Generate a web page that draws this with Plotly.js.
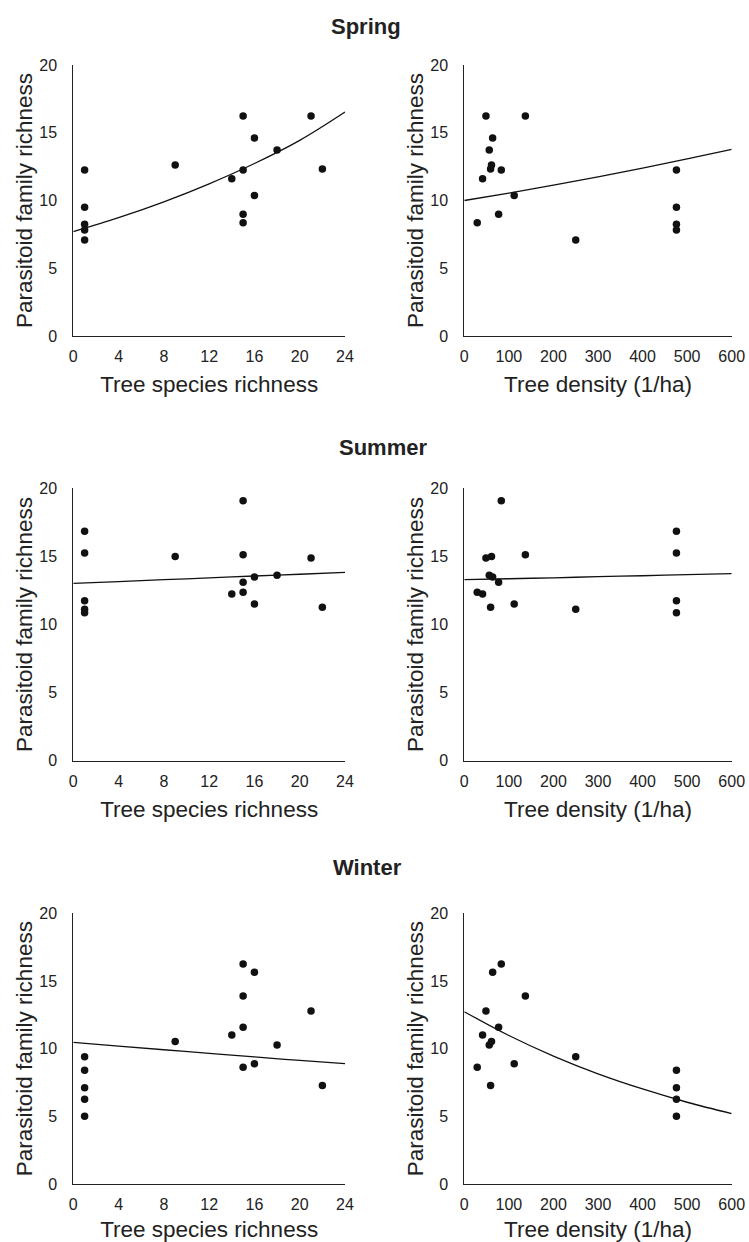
<!DOCTYPE html>
<html>
<head>
<meta charset="utf-8">
<script src="https://cdn.plot.ly/plotly-3.0.1.min.js"></script>
<style>html,body{margin:0;padding:0;background:#fff}#chart{width:749px;height:1242px}</style>
</head>
<body>
<div id="chart"></div>
<script>
// Site-level data (16 sites)
const treeSpecies = [1, 1, 1, 1, 1, 9, 14, 15, 15, 15, 15, 16, 16, 18, 21, 22];
const treeDensity = [476, 476, 476, 476, 250, 61, 41, 137, 83, 77, 29, 63.6, 112, 56, 48.6, 59];
const springRich = [12.25, 9.5, 8.24, 7.82, 7.08, 12.62, 11.61, 16.24, 12.25, 8.98, 8.36, 14.61, 10.36, 13.73, 16.24, 12.32];
const summerRich = [16.84, 15.25, 11.75, 10.86, 11.12, 15.0, 12.24, 15.13, 19.09, 13.1, 12.36, 13.49, 11.51, 13.61, 14.88, 11.26];
const winterRich = [8.4, 7.12, 6.26, 5.0, 9.4, 10.52, 11.01, 13.89, 16.26, 11.58, 8.62, 15.64, 8.89, 10.27, 12.78, 7.28];

// Fitted curves at the tick positions
const fitSpeciesX = [0, 4, 8, 12, 16, 20, 24];
const fitDensityX = [0, 100, 200, 300, 400, 500, 600];
const springFitSpecies = [7.70, 8.73, 9.90, 11.23, 12.73, 14.44, 16.53];
const springFitDensity = [10.0, 10.55, 11.13, 11.74, 12.39, 13.07, 13.78];
const summerFitSpecies = [13.02, 13.15, 13.29, 13.42, 13.56, 13.69, 13.83];
const summerFitDensity = [13.29, 13.36, 13.43, 13.51, 13.58, 13.66, 13.73];
const winterFitSpecies = [10.47, 10.19, 9.92, 9.65, 9.39, 9.13, 8.89];
const winterFitDensity = [12.73, 10.97, 9.45, 8.14, 7.02, 6.04, 5.20];

const seasonTitles = ['Spring', 'Summer', 'Winter'];
const xTitles = ['Tree species richness', 'Tree density (1/ha)'];
const yTitle = 'Parasitoid family richness';
const speciesTicks = [0, 4, 8, 12, 16, 20, 24];
const densityTicks = [0, 100, 200, 300, 400, 500, 600];
const yTicks = [0, 5, 10, 15, 20];

const W = 749, H = 1242;
const colPx = [[73.3, 345], [464.3, 731.7]];
const rowPx = [[65, 336], [488.3, 760.7], [913.3, 1184]];
const titleY = [27, 447, 867];
const titleX = [366, 383, 367];

const seasons = [
  {rich: springRich, fitS: springFitSpecies, fitD: springFitDensity},
  {rich: summerRich, fitS: summerFitSpecies, fitD: summerFitDensity},
  {rich: winterRich, fitS: winterFitSpecies, fitD: winterFitDensity}
];

const traces = [];
const layout = {
  width: W, height: H,
  margin: {l: 0, r: 0, t: 0, b: 0},
  paper_bgcolor: '#fff', plot_bgcolor: '#fff',
  showlegend: false,
  font: {family: 'Liberation Sans, Arial, sans-serif', color: '#222'},
  annotations: []
};

const font = 'Liberation Sans, Arial, sans-serif';
let k = 0;
seasons.forEach((s, r) => {
  for (let c = 0; c < 2; c++) {
    k++;
    const xa = k === 1 ? 'x' : 'x' + k;
    const ya = k === 1 ? 'y' : 'y' + k;
    const xs = c === 0 ? treeSpecies : treeDensity;
    traces.push({
      x: xs, y: s.rich, xaxis: xa, yaxis: ya, type: 'scatter', mode: 'markers',
      marker: {color: '#111', size: 7.5}, cliponaxis: false, hoverinfo: 'x+y'
    });
    traces.push({
      x: c === 0 ? fitSpeciesX : fitDensityX, y: c === 0 ? s.fitS : s.fitD,
      xaxis: xa, yaxis: ya, type: 'scatter', mode: 'lines',
      line: {color: '#111', width: 1.3, shape: 'spline'}, hoverinfo: 'skip'
    });
    const xd = [colPx[c][0] / W, colPx[c][1] / W];
    const yd = [1 - rowPx[r][1] / H, 1 - rowPx[r][0] / H];
    layout['xaxis' + (k === 1 ? '' : k)] = {
      domain: xd, anchor: ya, range: c === 0 ? [0, 24] : [0, 600],
      tickvals: c === 0 ? speciesTicks : densityTicks,
      showgrid: false, zeroline: false, showline: true, linecolor: '#222', linewidth: 1,
      ticks: '', ticklabelstandoff: 6,
      tickfont: {family: font, size: 16, color: '#222'},
      title: {text: xTitles[c], font: {family: font, size: 22.5, color: '#222'}, standoff: 12}
    };
    layout['yaxis' + (k === 1 ? '' : k)] = {
      domain: yd, anchor: xa, range: [0, 20], tickvals: yTicks,
      showgrid: false, zeroline: false, showline: true, linecolor: '#222', linewidth: 1,
      ticks: '', ticklabelstandoff: 12,
      tickfont: {family: font, size: 16, color: '#222'},
      title: {text: yTitle, font: {family: font, size: 22.5, color: '#222'}, standoff: 0}
    };
  }
  layout.annotations.push({
    text: '<b>' + seasonTitles[r] + '</b>', xref: 'paper', yref: 'paper',
    x: titleX[r] / W, y: 1 - titleY[r] / H, xanchor: 'center', yanchor: 'middle',
    showarrow: false, font: {family: font, size: 22, color: '#222'}
  });
});

Plotly.newPlot('chart', traces, layout, {displayModeBar: false, staticPlot: true});
</script>
</body>
</html>
